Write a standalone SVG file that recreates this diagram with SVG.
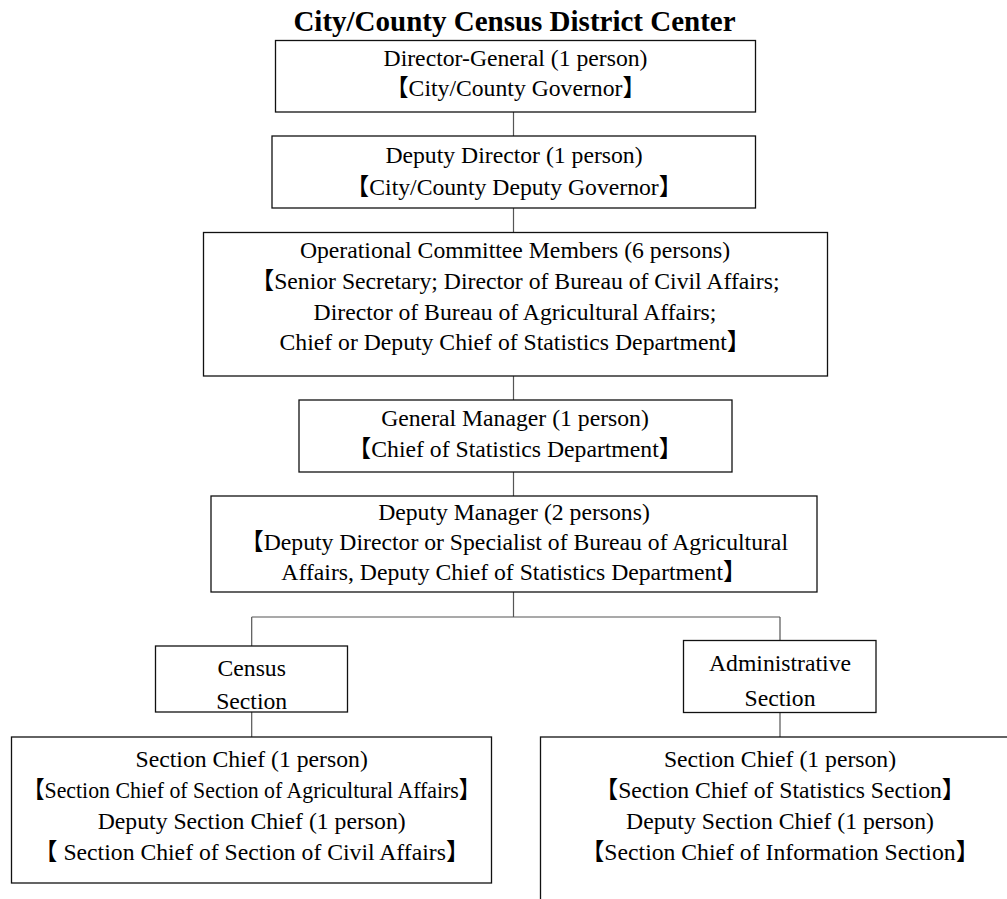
<svg xmlns="http://www.w3.org/2000/svg" width="1007" height="899" viewBox="0 0 1007 899">
<style>
.t{font-family:"Liberation Serif","Noto Sans CJK SC",serif;font-size:23.7px;fill:#000;text-anchor:middle}
.title{font-family:"Liberation Serif","Noto Sans CJK SC",serif;font-size:29px;font-weight:bold;fill:#000;text-anchor:middle}
.box{fill:#fff;stroke:#111;stroke-width:1.3}
.c{stroke:#555;stroke-width:1.2;fill:none}
</style>
<rect width="1007" height="899" fill="#fff"/>
<text class="title" x="514.5" y="31">City/County Census District Center</text>
<g id="connectors">
<path class="c" d="M513.5,112V136M513.5,208V232.5M513.5,376V400M513.5,472V496M513.5,592V617M251.7,617H780M251.7,617V646M780,617V640.5M251.7,712V737M780,712.5V737"/>
</g>
<g id="director-general">
<rect class="box" x="275.5" y="40.5" width="480" height="71.5"/>
<text class="t" x="515.5" y="66">Director-General (1 person)</text>
<text class="t" x="515.5" y="96">【City/County Governor】</text>
</g>
<g id="deputy-director">
<rect class="box" x="272" y="136" width="483.5" height="72"/>
<text class="t" x="514" y="163">Deputy Director (1 person)</text>
<text class="t" x="514" y="195">【City/County Deputy Governor】</text>
</g>
<g id="committee">
<rect class="box" x="203.5" y="232.5" width="624" height="143.5"/>
<text class="t" x="515" y="258">Operational Committee Members (6 persons)</text>
<text class="t" x="515" y="289">【Senior Secretary; Director of Bureau of Civil Affairs;</text>
<text class="t" x="515" y="320">Director of Bureau of Agricultural Affairs;</text>
<text class="t" x="515" y="350">Chief or Deputy Chief of Statistics Department】</text>
</g>
<g id="general-manager">
<rect class="box" x="299" y="400" width="433" height="72"/>
<text class="t" x="515" y="426">General Manager (1 person)</text>
<text class="t" x="515" y="457">【Chief of Statistics Department】</text>
</g>
<g id="deputy-manager">
<rect class="box" x="211" y="496" width="606" height="96"/>
<text class="t" x="514" y="520">Deputy Manager (2 persons)</text>
<text class="t" x="514" y="550">【Deputy Director or Specialist of Bureau of Agricultural</text>
<text class="t" x="514" y="580">Affairs, Deputy Chief of Statistics Department】</text>
</g>
<g id="census-section">
<rect class="box" x="155.5" y="646" width="192" height="66"/>
<text class="t" x="251.7" y="676">Census</text>
<text class="t" x="251.7" y="709">Section</text>
</g>
<g id="administrative-section">
<rect class="box" x="683.5" y="640.5" width="192.5" height="72"/>
<text class="t" x="780" y="671">Administrative</text>
<text class="t" x="780" y="706">Section</text>
</g>
<g id="census-chiefs">
<rect class="box" x="11.5" y="737" width="480" height="146"/>
<text class="t" x="251.7" y="767">Section Chief (1 person)</text>
<text class="t" x="251.7" y="798" textLength="458" lengthAdjust="spacingAndGlyphs">【Section Chief of Section of Agricultural Affairs】</text>
<text class="t" x="251.7" y="829">Deputy Section Chief (1 person)</text>
<text class="t" x="251.7" y="860">【 Section Chief of Section of Civil Affairs】</text>
</g>
<g id="administrative-chiefs">
<rect class="box" x="540.5" y="737" width="480" height="200"/>
<text class="t" x="780" y="767">Section Chief (1 person)</text>
<text class="t" x="780" y="798">【Section Chief of Statistics Section】</text>
<text class="t" x="780" y="829">Deputy Section Chief (1 person)</text>
<text class="t" x="780" y="860">【Section Chief of Information Section】</text>
</g>
</svg>
